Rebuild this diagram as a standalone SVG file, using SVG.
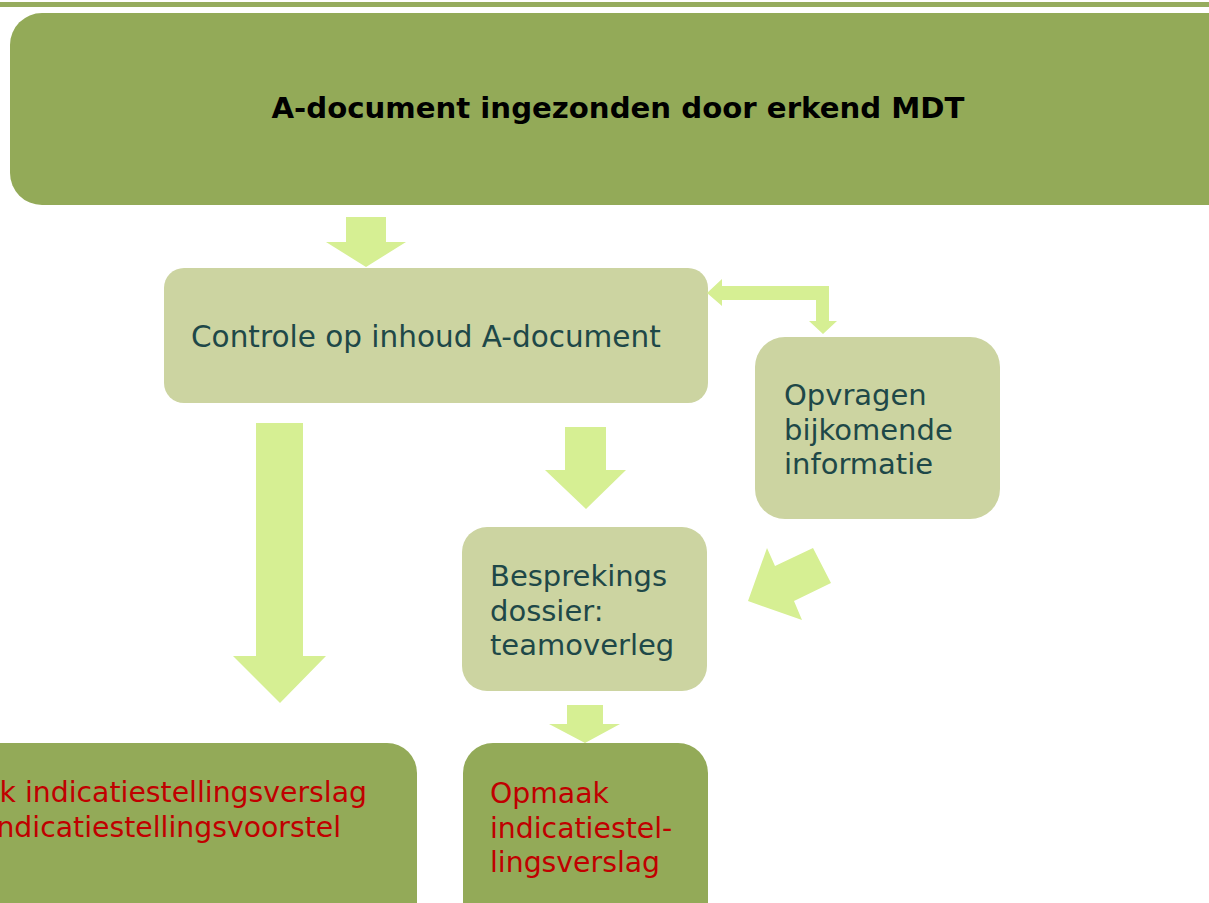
<svg xmlns="http://www.w3.org/2000/svg" width="1209" height="903" viewBox="0 0 1209 903">
<style>
.dark{fill:#93AA58}
.light{fill:#CCD4A1}
.arrow{fill:#D6EF93}
.t{font-family:"DejaVu Sans",Verdana,sans-serif;font-size:29px;fill:#1E4848}
.r{font-family:"DejaVu Sans",Verdana,sans-serif;font-size:28.3px;fill:#C00000}
.title{font-family:"DejaVu Sans",Verdana,sans-serif;font-size:29.2px;font-weight:bold;fill:#000}
</style>
<rect x="0" y="2" width="1209" height="5" fill="#96AC5E"/>
<g id="n-top">
<rect class="dark" x="10" y="13" width="1240" height="192" rx="32"/>
<text class="title" x="618" y="118" text-anchor="middle">A-document ingezonden door erkend MDT</text>
</g>
<g id="n-controle">
<rect class="light" x="164" y="268" width="544" height="135" rx="20"/>
<text class="t" x="191" y="347" style="font-size:29.5px">Controle op inhoud A-document</text>
</g>
<g id="n-opvragen">
<rect class="light" x="755" y="337" width="245" height="182" rx="30"/>
<text class="t" x="784" y="405">Opvragen</text>
<text class="t" x="784" y="440">bijkomende</text>
<text class="t" x="784" y="474">informatie</text>
</g>
<g id="n-bespreking">
<rect class="light" x="462" y="527" width="245" height="164" rx="25"/>
<text class="t" x="490" y="586">Besprekings</text>
<text class="t" x="490" y="621">dossier:</text>
<text class="t" x="490" y="655">teamoverleg</text>
</g>
<g id="n-opmaak-links">
<rect class="dark" x="-40" y="743" width="457" height="200" rx="30"/>
<text class="r" x="367" y="802" text-anchor="end">k indicatiestellingsverslag</text>
<text class="r" x="341" y="837" text-anchor="end">ndicatiestellingsvoorstel</text>
</g>
<g id="n-opmaak">
<rect class="dark" x="463" y="743" width="245" height="200" rx="30"/>
<text class="r" x="490" y="803">Opmaak</text>
<text class="r" x="490" y="838">indicatiestel-</text>
<text class="r" x="490" y="872">lingsverslag</text>
</g>
<g id="connectors">
<polygon class="arrow" points="346,217 386,217 386,242 406,242 366,267 326,242 346,242"/>
<polygon class="arrow" points="707,293 722,279 722,286 829,286 829,321 837,321 823,334 809,321 816,321 816,300 722,300 722,306"/>
<polygon class="arrow" points="565,427 606,427 606,470 626,470 586,509 545,470 565,470"/>
<polygon class="arrow" points="256,423 303,423 303,656 326,656 280,703 233,656 256,656"/>
<polygon class="arrow" points="748,601 767,548 775,566 813,548 831,583 794,601 802,620"/>
<polygon class="arrow" points="567,705 603,705 603,724 620,724 585,743 549,724 567,724"/>
</g>
</svg>
